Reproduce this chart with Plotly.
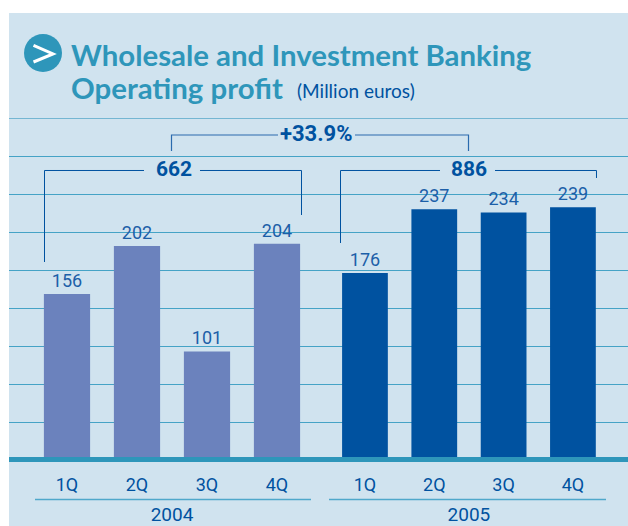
import plotly.graph_objects as go

W, H = 628, 526
quarters = ["1Q", "2Q", "3Q", "4Q"]
profit_2004 = [156, 202, 101, 204]
profit_2005 = [176, 237, 234, 239]
years = ["2004", "2005"]
total_2004 = "662"
total_2005 = "886"
growth = "+33.9%"

PANEL = "#D0E3EF"; LIGHT = "#6B82BD"; DARK = "#0052A0"; TEAL = "#2E96BA"; GRID = "#45A3C6"
TITLE_FONT = "Lato"
NUM_FONT = "Roboto"

def px(x): return x / W
def py(y): return 1 - y / H

Y0, YTOP = 457, 118
fig = go.Figure()
fig.add_bar(x=quarters, y=profit_2004, marker=dict(color=LIGHT, line_width=0), xaxis="x", yaxis="y",
            text=profit_2004, textposition="outside", cliponaxis=False,
            textfont=dict(family=NUM_FONT, size=18, color="#1C5FA8"))
fig.add_bar(x=quarters, y=profit_2005, marker=dict(color=DARK, line_width=0), xaxis="x2", yaxis="y2",
            text=profit_2005, textposition="outside", cliponaxis=False,
            textfont=dict(family=NUM_FONT, size=18, color="#1C5FA8"))

shapes = [dict(type="rect", xref="paper", yref="paper", x0=px(9), x1=1, y0=0, y1=py(13),
               fillcolor=PANEL, line_width=0, layer="below")]
for i, gy in enumerate([118, 156, 194, 232, 270, 308, 346, 384, 422]):
    shapes.append(dict(type="line", xref="paper", yref="paper", x0=px(9), x1=1, y0=py(gy + .5), y1=py(gy + .5),
                       line=dict(color="#74B6D2" if i == 0 else GRID, width=1), layer="below"))
shapes.append(dict(type="rect", xref="paper", yref="paper", x0=px(9), x1=1, y0=py(462), y1=py(457),
                   fillcolor=TEAL, line_width=0))
for a, b in [(35, 311), (329, 606)]:
    shapes.append(dict(type="line", xref="paper", yref="paper", x0=px(a), x1=px(b), y0=py(499.5), y1=py(499.5),
                       line=dict(color="#4FA8CB", width=1.5)))
def poly(pts, color=DARK, width=1):
    d = "M" + " L".join(f"{px(x):.5f},{py(y):.5f}" for x, y in pts)
    shapes.append(dict(type="path", xref="paper", yref="paper", path=d, line=dict(color=color, width=width)))
poly([(171.5, 151), (171.5, 135), (278, 135)], "#2A6BAE", 1.2)
poly([(355, 135), (468.5, 135), (468.5, 151)], "#2A6BAE", 1.2)
poly([(44.5, 262), (44.5, 170.5), (144, 170.5)])
poly([(200, 170.5), (301.5, 170.5), (301.5, 215)])
poly([(340.5, 243), (340.5, 170.5), (440, 170.5)])
poly([(495, 170.5), (596.5, 170.5), (596.5, 178)])
shapes.append(dict(type="circle", xref="paper", yref="paper", x0=px(24), x1=px(62), y0=py(72), y1=py(34),
                   fillcolor=TEAL, line_width=0))
poly([(33.5, 45.5), (53, 54), (33.5, 62)], "white", 3)

def note(x, y, text, size, color, family=NUM_FONT, bold=False, anchor="center"):
    return dict(xref="paper", yref="paper", x=px(x), y=py(y), xanchor=anchor, yanchor="middle", showarrow=False,
                text=f"<b>{text}</b>" if bold else text, font=dict(family=family, size=size, color=color))

annotations = [
    note(69, 55, "Wholesale and Investment Banking", 29.4, TEAL, TITLE_FONT, True, "left"),
    note(69, 87, "Operating profit", 29.4, TEAL, TITLE_FONT, True, "left"),
    note(295, 90, "(Million euros)", 19, DARK, TITLE_FONT, anchor="left"),
    note(316, 133, growth, 22, DARK, bold=True),
    note(173.5, 169, total_2004, 21, DARK, bold=True),
    note(469, 169, total_2005, 21, DARK, bold=True),
]

common = dict(type="category", range=[-0.5, 3.5], showgrid=False, zeroline=False, showline=False,
              ticks="outside", ticklen=11, tickcolor="rgba(0,0,0,0)",
              tickfont=dict(family=NUM_FONT, size=18, color=DARK))
def xa(lo, hi, ya, title):
    d = dict(common); d.update(domain=[px(lo), px(hi)], anchor=ya,
                               title=dict(text=title, standoff=19, font=dict(family=NUM_FONT, size=19, color=DARK)))
    return d
ya = dict(range=[0, (Y0 - YTOP) / 1.045], domain=[py(Y0), py(YTOP)], visible=False, fixedrange=True)

fig.update_layout(
    width=W, height=H, margin=dict(l=0, r=0, t=0, b=0), autosize=False,
    paper_bgcolor="white", plot_bgcolor="rgba(0,0,0,0)", showlegend=False, bargap=0.34,
    xaxis=xa(32, 312, "y", years[0]), xaxis2=xa(330.3, 607.6, "y2", years[1]),
    yaxis=ya, yaxis2=dict(ya, matches="y"),
    shapes=shapes, annotations=annotations,
)
fig.write_html("out.html", config=dict(displayModeBar=False), post_script="document.body.style.margin='0';")
